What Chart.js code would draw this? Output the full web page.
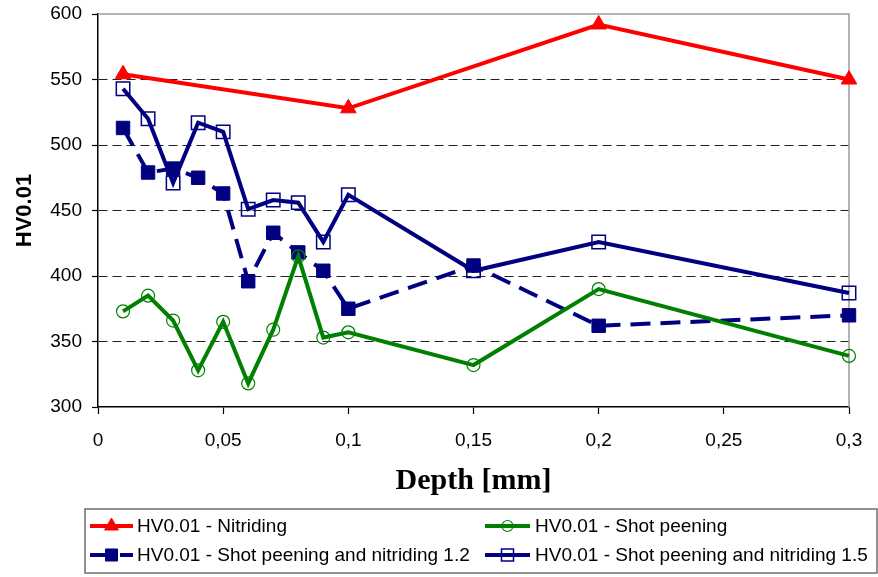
<!DOCTYPE html>
<html>
<head>
<meta charset="utf-8">
<title>HV0.01 vs depth</title>
<script src="https://cdn.jsdelivr.net/npm/chart.js@4.4.0/dist/chart.umd.min.js"></script>
<style>
  html, body { margin: 0; padding: 0; background: #fff; }
  #wrap { position: relative; width: 878px; height: 577px; }
</style>
</head>
<body>
<div id="wrap"><canvas id="hvChart" width="878" height="577"></canvas></div>
<script>
// depths (mm) and hardness readings
var depthNitriding = [0.01, 0.1, 0.2, 0.3];
var hvNitriding = [554, 528, 592, 550];

var depthTreated = [0.01, 0.02, 0.03, 0.04, 0.05, 0.06, 0.07, 0.08, 0.09, 0.1, 0.15, 0.2, 0.3];
var hvShotPeening = [373, 385, 366, 328, 365, 318, 359, 415, 353, 357, 332, 390, 339];
var hvSpNitriding12 = [513, 479, 482, 475, 463, 396, 433, 418, 404, 375, 408, 362, 370];
var hvSpNitriding15 = [543, 520, 471, 517, 510, 451, 458, 456, 426, 462, 404, 426, 387];

var seriesNames = [
  "HV0.01 - Nitriding",
  "HV0.01 - Shot peening",
  "HV0.01 - Shot peening and nitriding 1.2",
  "HV0.01 - Shot peening and nitriding 1.5"
];

var yTicks = [300, 350, 400, 450, 500, 550, 600];

function pairs(xs, ys) {
  return xs.map(function(x, i) { return { x: x, y: ys[i] }; });
}

Chart.defaults.font.family = "'Liberation Sans', Arial, sans-serif";
Chart.defaults.color = '#000';

// plot frame (top/right) and the boxed two-column legend under the axis title
var frameAndLegend = {
  id: 'frameAndLegend',
  beforeDatasetsDraw: function(chart) {
    var ctx = chart.ctx, a = chart.chartArea;
    ctx.save();
    ctx.strokeStyle = '#9a9a9a';
    ctx.lineWidth = 1.5;
    ctx.beginPath();
    ctx.moveTo(a.left, a.top);
    ctx.lineTo(a.right, a.top);
    ctx.lineTo(a.right, a.bottom);
    ctx.stroke();
    ctx.restore();
  },
  afterDraw: function(chart) {
    var ctx = chart.ctx;
    ctx.save();
    ctx.strokeStyle = '#6e6e6e';
    ctx.lineWidth = 1.5;
    ctx.strokeRect(85, 509, 792, 64);

    var slots = [
      { x0: 90, x1: 133, tx: 137, y: 526 },
      { x0: 485, x1: 530, tx: 535, y: 526 },
      { x0: 90, x1: 133, tx: 137, y: 555 },
      { x0: 485, x1: 530, tx: 535, y: 555 }
    ];
    chart.data.datasets.forEach(function(ds, i) {
      var s = slots[i];
      ctx.save();
      ctx.strokeStyle = ds.borderColor;
      ctx.lineWidth = ds.borderWidth;
      ctx.setLineDash(ds.borderDash || []);
      ctx.beginPath();
      ctx.moveTo(s.x0, s.y);
      ctx.lineTo(s.x1, s.y);
      ctx.stroke();
      ctx.restore();

      ctx.save();
      ctx.fillStyle = ds.pointBackgroundColor;
      ctx.strokeStyle = ds.pointBorderColor;
      ctx.lineWidth = ds.pointBorderWidth;
      Chart.helpers.drawPoint(ctx, {
        pointStyle: ds.pointStyle,
        radius: ds.pointRadius - 1,
        borderWidth: ds.pointBorderWidth,
        rotation: 0
      }, (s.x0 + s.x1) / 2, s.y);
      ctx.restore();

      ctx.fillStyle = '#000';
      ctx.font = "19px 'Liberation Sans', Arial, sans-serif";
      ctx.textBaseline = 'middle';
      ctx.textAlign = 'left';
      ctx.fillText(seriesNames[i], s.tx, s.y + 1);
    });
    ctx.restore();
  }
};

new Chart("hvChart", {
  type: "line",
  data: {
    datasets: [{
      label: seriesNames[0],
      data: pairs(depthNitriding, hvNitriding),
      borderColor: "#ff0000",
      borderWidth: 4,
      pointStyle: "triangle",
      pointRadius: 9,
      pointBackgroundColor: "#ff0000",
      pointBorderColor: "#ff0000",
      pointBorderWidth: 1
    }, {
      label: seriesNames[1],
      data: pairs(depthTreated, hvShotPeening),
      borderColor: "#008000",
      borderWidth: 4,
      pointStyle: "circle",
      pointRadius: 6.5,
      pointBackgroundColor: "rgba(0,0,0,0)",
      pointBorderColor: "#008000",
      pointBorderWidth: 1.2
    }, {
      label: seriesNames[2],
      data: pairs(depthTreated, hvSpNitriding12),
      borderColor: "#000080",
      borderWidth: 4,
      borderDash: [20, 10],
      pointStyle: "rect",
      pointRadius: 9.5,
      pointBackgroundColor: "#000080",
      pointBorderColor: "#000080",
      pointBorderWidth: 1
    }, {
      label: seriesNames[3],
      data: pairs(depthTreated, hvSpNitriding15),
      borderColor: "#000080",
      borderWidth: 4,
      pointStyle: "rect",
      pointRadius: 9.5,
      pointBackgroundColor: "rgba(0,0,0,0)",
      pointBorderColor: "#000080",
      pointBorderWidth: 1.5
    }]
  },
  options: {
    responsive: false,
    animation: false,
    devicePixelRatio: 1,
    datasets: { line: { tension: 0, clip: false } },
    layout: { padding: { left: 0, right: 29, top: 14, bottom: 77 } },
    plugins: {
      legend: { display: false },
      tooltip: { enabled: false }
    },
    scales: {
      x: {
        type: "linear",
        min: 0,
        max: 0.3,
        afterFit: function(scale) {
          scale.height = 93;
          scale.paddingLeft = 0;
          scale.paddingRight = 0;
        },
        ticks: {
          stepSize: 0.05,
          padding: 15,
          font: { size: 19 },
          color: "#000",
          callback: function(v) { return String(Number(v.toFixed(2))).replace('.', ','); }
        },
        grid: { drawOnChartArea: false, drawTicks: true, tickLength: 7, tickColor: "#000", tickWidth: 1.2 },
        border: { color: "#000", width: 1.5 },
        title: {
          display: true,
          text: "Depth [mm]",
          color: "#000",
          font: { family: "'Liberation Serif', 'Times New Roman', serif", size: 30, weight: "bold" },
          padding: { top: 0, bottom: 1 }
        }
      },
      y: {
        min: 300,
        max: 600,
        afterFit: function(scale) {
          scale.width = 98;
          scale.paddingTop = 0;
          scale.paddingBottom = 0;
        },
        afterBuildTicks: function(scale) {
          scale.ticks = yTicks.map(function(v) { return { value: v }; });
        },
        ticks: { padding: 10, font: { size: 19 }, color: "#000" },
        grid: {
          color: function(c) {
            var v = c.tick && c.tick.value;
            return (v === 300 || v === 600) ? "rgba(0,0,0,0)" : "#222";
          },
          lineWidth: 1,
          tickLength: 6,
          tickColor: "#000",
          tickWidth: 1.2
        },
        border: { color: "#000", width: 1.5, dash: [9, 5] },
        title: {
          display: true,
          text: "HV0.01",
          color: "#000",
          font: { size: 22, weight: "bold" },
          padding: { top: 12, bottom: 0 }
        }
      }
    }
  },
  plugins: [frameAndLegend]
});
</script>
</body>
</html>
